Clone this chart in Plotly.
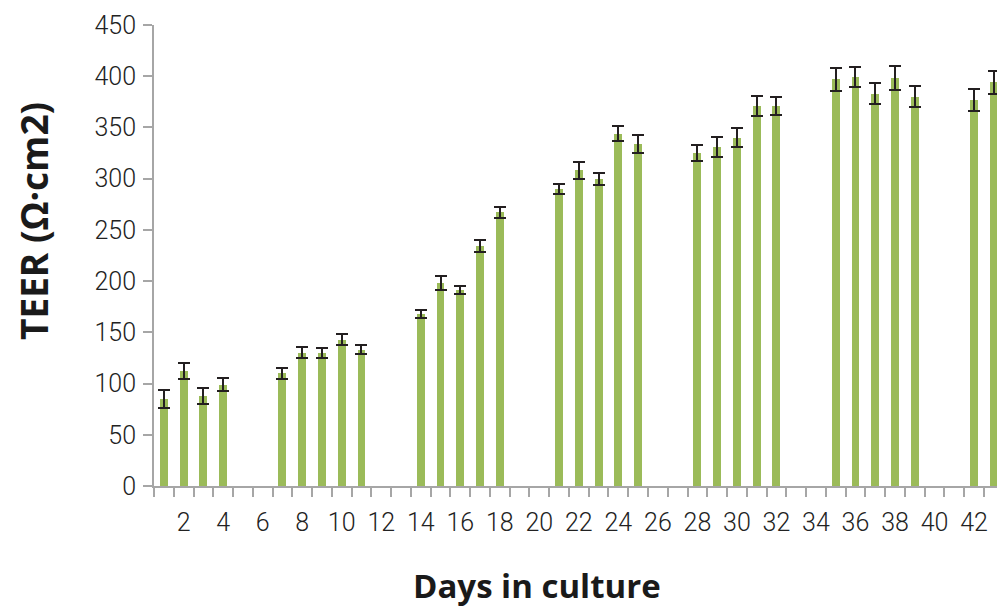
import plotly.graph_objects as go

# TEER measurements (mean ± error) by day in culture
days = [1, 2, 3, 4, 7, 8, 9, 10, 11, 14, 15, 16, 17, 18, 21, 22, 23, 24, 25,
        28, 29, 30, 31, 32, 35, 36, 37, 38, 39, 42, 43]
teer = [85, 112, 88, 99, 110, 130, 130, 143, 133, 168, 198, 191, 234, 267,
        290, 308, 300, 344, 334, 325, 331, 340, 371, 371, 397, 399, 383, 398,
        380, 377, 394]
teer_err = [9, 8, 8, 6, 5.5, 5.5, 5, 5, 4.5, 4, 7, 4, 6, 5, 5, 8, 6, 7.5, 8.5,
            7.5, 9.5, 9.5, 10, 8.5, 11, 10, 10, 11.5, 10.5, 11, 11.5]

x_tick_vals = list(range(2, 43, 2))
y_tick_vals = list(range(0, 451, 50))

W, H = 997, 608
L, R, T, B = 154, 0, 25, 122
plot_w = W - L - R
cat_px = 19.76  # pixels per day

fig = go.Figure()
fig.add_trace(go.Bar(
    x=days,
    y=teer,
    width=0.4,
    marker=dict(color="#9BBB59", line=dict(width=0)),
    error_y=dict(type="data", array=teer_err, visible=True,
                 color="#231F20", thickness=2, width=6),
    showlegend=False,
))

tick_font = dict(family="Roboto, Liberation Sans, sans-serif", size=25,
                 color="#222222", weight=300)
axis_grey = "#A6A6A6"

fig.update_layout(
    width=W, height=H,
    margin=dict(l=L, r=R, t=T, b=B, pad=0),
    paper_bgcolor="white",
    plot_bgcolor="white",
    bargap=0,
    xaxis=dict(
        range=[0.5, 0.5 + plot_w / cat_px],
        tickmode="array",
        tickvals=x_tick_vals,
        ticktext=[str(v) for v in x_tick_vals],
        ticks="",
        ticklen=0,
        tickfont=tick_font,
        ticklabelstandoff=13,
        showgrid=False,
        zeroline=False,
        showline=True,
        linecolor=axis_grey,
        linewidth=2,
        minor=dict(tick0=0.5, dtick=1, ticks="outside", ticklen=9,
                   tickcolor=axis_grey, tickwidth=2, showgrid=False),
        fixedrange=True,
    ),
    yaxis=dict(
        range=[0, 450],
        tickmode="array",
        tickvals=y_tick_vals,
        ticks="outside",
        ticklen=9,
        tickwidth=2,
        tickcolor=axis_grey,
        tickfont=tick_font,
        ticklabelstandoff=2,
        showgrid=False,
        zeroline=False,
        showline=True,
        linecolor=axis_grey,
        linewidth=2,
        fixedrange=True,
    ),
    annotations=[
        dict(text="<b>Days in culture</b>", xref="paper", yref="paper",
             x=(537 - L) / plot_w, y=(486 - 585) / 461,
             xanchor="center", yanchor="middle", showarrow=False,
             font=dict(family="Open Sans, sans-serif", size=33, color="#1A1A1A")),
        dict(text="<b>TEER (Ω·cm2)</b>", xref="paper", yref="paper",
             x=(33 - L) / plot_w, y=(486 - 221) / 461, textangle=-90,
             xanchor="center", yanchor="middle", showarrow=False,
             font=dict(family="Open Sans, sans-serif", size=37, color="#1A1A1A")),
    ],
)

fig.write_html("out.html")
